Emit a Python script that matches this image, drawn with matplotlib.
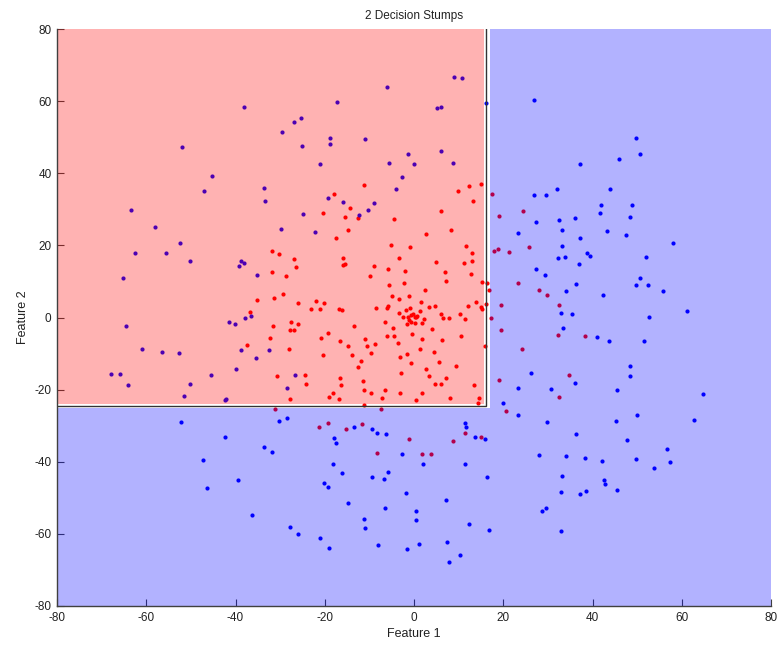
import matplotlib
matplotlib.use("Agg")
import matplotlib.pyplot as plt
from matplotlib.patches import Rectangle, Polygon

plt.rcParams['font.family'] = ['Liberation Sans', 'DejaVu Sans']
plt.rcParams['axes.unicode_minus'] = False

# Decision stump thresholds
split_x = 16.13
split_y = -24.47

blue_x = [
    -51.9, -45.3, -47.1, -63.5,
    -6.1, -17.3, -38.2, -25.4, -27.0, -29.5, -18.8, -18.8, -10.9, -25.0, -1.4, -5.5, 0.0, -21.0,
    -2.8, -4.0, -33.7, -33.5, -19.2, -15.9, -9.0, -10.3, -24.8, -12.3,
    8.9, 10.8, 5.2, 6.1, 16.2, 27.0, 6.1, 8.7, 37.3, 26.9, 29.5, 32.1, 27.3, 32.6, 36.0,
    49.7, 50.7, 45.9, 43.9, 41.8, 48.8, 41.6, 48.3,
    -58.1, -52.4, -62.6, -55.6, -50.2, -65.3, -41.5, -40.1, -64.5, -61.0, -56.4, -52.7, -40.0,
    -68.0, -65.9, -45.6, -64.1, -50.2, -51.6, -42.4, -42.1,
    -29.7, -22.1, -38.8, -38.2, -39.2, -35.1, -37.8, -36.6, -38.8, -32.6, -35.5, -26.7, -28.5,
    33.2, 23.2, 37.1, 33.2, 38.7, 39.4, 32.3, 33.9, 36.9, 27.4, 29.4, 36.4, 34.1, 33.0, 35.4,
    33.5, 40.9, 26.3, 36.0, 23.4, 30.7, 19.9, 23.4,
    43.3, 47.4, 58.0, 52.0, 50.6, 49.7, 52.4, 55.9, 42.4, 61.2, 52.6, 43.6, 51.6, 48.3, 48.3,
    45.4, 64.8, 49.9,
    -52.3, -42.3, -47.3, -46.3,
    -30.3, -28.5, -33.7, -31.8, -39.4, -36.2, -27.7, -26.1, -21.1, -19.0, -18.2, -16.1, -20.2,
    -19.2, -14.9, -17.9, -17.5, -13.4, -9.3, -8.2, -6.2, -2.8, -5.9, -9.3, -6.8, -1.8, -6.6,
    -11.1, -10.9, -8.0, -1.6, 0.5, 0.5,
    29.9, 36.4, 11.4, 11.6, 13.7, 16.0, 2.1, 11.4, 16.4, 28.0, 34.1, 38.3, 33.2, 33.0, 37.1,
    38.5, 7.1, 28.6, 29.6, 12.3, 16.8, 32.9, 1.1, 7.5, 10.2, 7.9,
    45.3, 62.8, 47.8, 56.8, 42.1, 49.7, 57.4, 53.7, 42.6, 42.8, 45.6,
]
blue_y = [
    47.3, 39.3, 35.1, 29.8,
    64.0, 59.7, 58.3, 55.4, 54.1, 51.5, 49.7, 48.2, 49.4, 47.5, 45.2, 42.9, 42.5, 42.5,
    38.9, 35.5, 36.0, 32.4, 33.1, 31.9, 31.7, 29.8, 28.6, 28.3,
    66.6, 66.4, 58.1, 58.5, 59.5, 60.2, 46.3, 42.8, 42.5, 33.9, 34.1, 35.7, 26.6, 27.0, 27.6,
    49.7, 45.2, 43.9, 35.5, 31.2, 31.2, 29.1, 27.9,
    25.2, 20.7, 17.8, 17.8, 15.6, 10.9, -1.3, -1.9, -2.4, -8.6, -9.5, -9.8, -14.3,
    -15.8, -15.8, -16.0, -18.8, -18.5, -21.7, -22.9, -22.7,
    24.5, 23.8, 15.7, 15.1, 14.2, 11.8, 0.0, 0.5, -9.0, -9.0, -11.2, -16.0, -19.6,
    24.4, 23.5, 22.0, 19.7, 17.8, 17.1, 16.6, 16.9, 14.7, 13.4, 11.8, 9.2, 7.4, 1.2, 1.0,
    -2.8, -5.4, -15.5, -18.1, -19.6, -19.8, -23.8, -27.0,
    24.0, 22.8, 20.7, 16.8, 10.9, 8.9, 8.9, 7.3, 6.2, 1.8, 0.2, -6.4, -6.4, -13.4, -16.2,
    -20.1, -21.3, -26.9,
    -29.0, -33.2, -39.4, -47.2,
    -28.7, -27.8, -35.8, -37.3, -45.0, -54.8, -58.1, -60.0, -61.2, -63.9, -40.5, -43.1, -46.0,
    -47.1, -51.3, -33.4, -34.7, -30.4, -30.8, -32.0, -32.3, -37.8, -42.9, -44.3, -44.8, -48.6, -52.9,
    -55.8, -58.5, -63.2, -64.2, -53.7, -56.1,
    -29.0, -32.3, -29.2, -30.4, -33.2, -33.8, -40.7, -40.5, -44.2, -38.2, -38.5, -39.0, -44.0, -48.4, -49.0,
    -48.1, -50.5, -53.7, -52.7, -57.2, -58.8, -59.1, -62.9, -62.2, -65.8, -67.7,
    -28.7, -28.3, -34.0, -36.6, -39.9, -39.2, -40.2, -41.8, -45.0, -46.2, -47.8,
]

red_x = [
    -11.1, -17.9, -14.4, -20.5, -15.5, -12.6, -4.5,
    15.1, 12.3, 9.8, 13.3, 6.0, 17.4, 19.1, 24.5,
    -14.7, -17.5, -31.8, -30.2, -27.0, -26.4, -31.8, -28.7, -15.9, -15.9, -15.5, -5.2, -0.8,
    -3.3, -9.0, -5.8, -2.0, -9.9, -5.5, -2.3, -4.9, -3.3, -1.2, -35.1, -31.4, -29.3, -26.0,
    -21.9, -20.2, -23.1, -21.1, -16.7, -16.1, -8.6, -6.1, -5.8, -3.4, -1.8, -0.8, -2.4, -1.4,
    -0.6, -0.2, 0.2, -1.2, -0.7, -1.5, 0.3, -36.8, -27.6, -26.0, -31.6, -27.8, -27.0, -32.2,
    -37.4, -28.1, -20.8, -19.2, -16.5, -13.4, -14.7, -20.5, -13.8, -10.9, -10.5, -8.7, -9.6,
    -11.9, -12.6, -6.4, -4.6, -6.1, -4.5, -0.5, -3.5, -3.1, -1.6, -0.7, -2.9, -30.7, -24.4,
    -24.1, -16.5, -16.4, -11.5, -11.3, -9.6, -6.4, -7.1, -3.1, -18.2, -19.0, -16.9, -27.7,
    -11.2, -31.2, -7.3, 0.5,
    2.7, 8.4, 11.7, 12.9, 4.9, 11.2, 12.9, 6.9, 12.7, 7.1, 15.2, 16.4, 16.7, 2.5, 1.5, 1.3,
    0.7, 0.4, 3.4, 4.6, 6.1, 6.5, 7.9, 10.2, 11.5, 12.2, 13.9, 15.0, 15.2, 16.1, 2.2, 1.9,
    4.0, 1.9, 6.3, 10.5, 1.3, 4.4, 5.5, 9.4, 2.8, 3.4, 7.1, 4.8, 6.0, 13.4, 1.9, 8.1, 14.6,
    14.3, 15.8,
    17.9, 18.9, 21.3, 25.7, 23.2, 27.9, 29.9, 19.5, 17.3, 19.5, 32.6, 32.3, 38.3, 24.3, 34.7,
    19.1, 32.5, 20.7,
    -21.4, -19.2, -15.2, -11.7, -8.2, -1.2,
    8.7, 11.4, 15.1, 1.9, 3.7,
]
red_y = [
    36.7, 34.3, 30.5, 29.1, 27.9, 27.6, 27.4,
    37.0, 36.5, 35.1, 32.2, 29.4, 34.3, 28.2, 29.4,
    24.3, 22.1, 18.5, 17.6, 16.1, 14.0, 12.5, 11.5, 16.4, 14.5, 14.7, 20.0, 19.5,
    16.6, 14.2, 13.4, 13.0, 11.5, 8.9, 9.5, 6.1, 5.1, 5.9, 4.9, 5.3, 6.5, 3.9,
    4.7, 4.1, 2.3, 2.3, 2.3, 2.0, 2.7, 2.7, 3.3, 1.3, 2.1, 2.7, 0.2, 0.2,
    0.6, 0.9, 0.2, -0.7, -1.3, -1.9, -1.6, 1.4, -1.2, -1.9, -2.4, -3.6, -3.6, -5.7,
    -7.6, -8.6, -5.7, -4.3, -6.4, -2.4, -7.9, -10.3, -10.3, -6.0, -7.9, -7.4, -9.8,
    -12.0, -13.8, -1.3, -3.0, -5.0, -5.0, -4.5, -7.2, -11.0, -10.0, -12.6, -15.3, -16.1, -16.0,
    -18.4, -16.9, -18.8, -17.7, -20.0, -21.0, -20.1, -22.2, -20.8, -21.0, -22.0, -22.7, -22.7,
    -24.4, -25.5, -25.5, -22.9,
    23.1, 24.4, 19.7, 18.0, 15.3, 15.1, 15.6, 12.7, 12.1, 10.0, 9.8, 9.7, 7.5, 7.7, 4.4, 1.8,
    0.5, 0.1, 2.9, 3.2, 1.1, -0.1, 0.0, 1.1, -0.4, 3.2, 4.4, 2.9, 2.3, 3.7, -0.5, -1.4,
    -3.1, -5.9, -6.2, -5.2, -8.6, -9.5, -12.4, -13.4, -14.3, -16.1, -16.7, -18.5, -18.4, -18.8, -20.8, -22.2, -22.4,
    -23.6, -7.9,
    18.4, 19.0, 18.1, 19.5, 9.5, 7.7, 6.3, 3.4, -0.2, -3.5, 3.4, -4.8, -5.2, -8.6, -16.0,
    -17.4, -22.0, -25.8,
    -30.4, -29.2, -31.0, -29.6, -37.6, -33.7,
    -34.3, -32.0, -33.2, -37.8, -37.8,
]

x_ticks = [-80, -60, -40, -20, 0, 20, 40, 60, 80]
y_ticks = [-80, -60, -40, -20, 0, 20, 40, 60, 80]

fig = plt.figure(figsize=(7.81, 6.47), dpi=100)
ax = fig.add_axes([57 / 781, 1 - 606 / 647, 714 / 781, 577 / 647])
ax.set_xlim(-80, 80)
ax.set_ylim(-80, 80)

# samples
ax.plot(red_x, red_y, 'o', color=(1, 0, 0), ms=3.0, mew=0, zorder=2)
ax.plot(blue_x, blue_y, 'o', color=(0, 0, 1), ms=3.0, mew=0, zorder=2)

# translucent decision regions with a thin white gap along the boundary
gap_lo, gap_hi = 0.38, 0.83
ax.add_patch(Rectangle((-80, split_y + 0.37), split_x - gap_lo + 80, 80 - split_y - 0.37,
                       facecolor=(1, 0, 0), alpha=0.3, edgecolor='none', zorder=3))
bx = split_x + gap_hi
by = split_y - 0.73
ax.add_patch(Polygon([(bx, 80), (80, 80), (80, -80), (-80, -80), (-80, by), (bx, by)],
                     closed=True, facecolor=(0, 0, 1), alpha=0.3, edgecolor='none', zorder=3))

# stump boundary
ax.plot([split_x, split_x, -80], [80, split_y, split_y], color='#333333', lw=1.0, zorder=4,
        solid_joinstyle='miter')

for side in ['top', 'right']:
    ax.spines[side].set_visible(False)
for side in ['left', 'bottom']:
    ax.spines[side].set_color('#404040')
    ax.spines[side].set_linewidth(1.0)
    ax.spines[side].set_zorder(5)

ax.set_xticks(x_ticks)
ax.set_yticks(y_ticks)
ax.tick_params(direction='in', length=5, width=0.8, color='#404040', labelsize=8.5,
               labelcolor='#222222', pad=4)

ax.set_title('2 Decision Stumps', fontsize=8.5, color='#222222', pad=7)
ax.set_xlabel('Feature 1', fontsize=9, color='#222222', labelpad=3)
ax.set_ylabel('Feature 2', fontsize=9, color='#222222', labelpad=4)

fig.savefig('out.png', dpi=100)
